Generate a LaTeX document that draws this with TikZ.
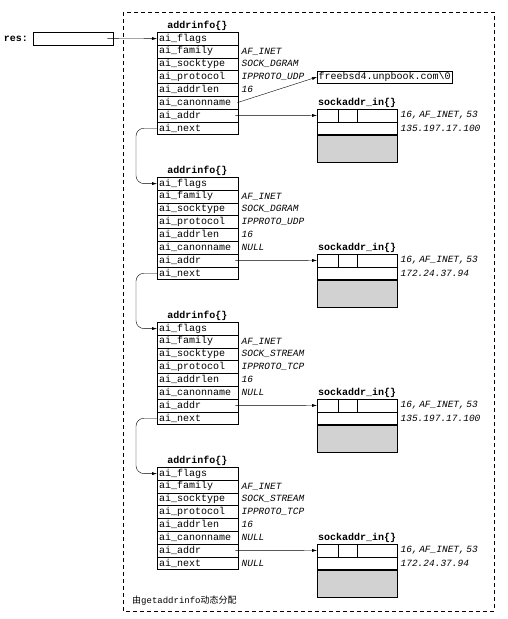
\documentclass[tikz,border=0pt]{standalone}
\usepackage{fontspec}
\setmonofont{Liberation Mono}
\newfontfamily\cjk{Noto Sans CJK SC}
\usetikzlibrary{arrows.meta}
\tikzset{
  fld/.style={draw,anchor=north west,minimum width=81pt,minimum height=12.8pt,
    text width=77pt,inner xsep=2pt,inner ysep=0pt,align=left},
  cell/.style={draw,anchor=north west,minimum width=80pt,minimum height=12.5pt,inner sep=0pt},
  val/.style={anchor=west,inner sep=0pt,xshift=3pt,font=\ttfamily\itshape\fontsize{9.5}{11}\selectfont},
  ttl/.style={font=\ttfamily\bfseries\fontsize{10}{12}\selectfont,inner sep=0pt},
  ptr/.style={-{Latex[length=5pt,width=3pt]}},
}
\begin{document}
\begin{tikzpicture}[x=1pt,y=-1pt,font=\ttfamily\fontsize{10}{12}\selectfont]
 \useasboundingbox (0,0) rectangle (507,619);
 \draw[dashed,dash pattern=on 4pt off 3pt] (123,12) rectangle (494,611);
 % res pointer
 \node[draw,anchor=west,minimum width=80pt,minimum height=13pt,inner sep=0pt] (res) at (33,38.4) {};
 \node[ttl,anchor=east] (reslbl) at ([xshift=-5pt]res.west) {res:};
 % the four addrinfo{} structures
 \foreach \s/\top/\typ/\proto/\ip in {1/32/DGRAM/UDP/135.197.17.100,2/177/DGRAM/UDP/172.24.37.94,
   3/322/STREAM/TCP/135.197.17.100,4/467/STREAM/TCP/172.24.37.94} {
  \node[ttl] (ai\s) at (197.5,\top-6) {addrinfo\{\}};
  \foreach \f [count=\i from 0] in {flags,family,socktype,protocol,addrlen,canonname,addr,next}
   \node[fld] (s\s-\f) at (157,\top+\i*12.8) {ai\_\f};
  \node[val] (v\s-family) at (s\s-family.east) {AF\_INET};
  \node[val] (v\s-type) at (s\s-socktype.east) {SOCK\_\typ};
  \node[val] (v\s-proto) at (s\s-protocol.east) {IPPROTO\_\proto};
  \node[val] (v\s-len) at (s\s-addrlen.east) {16};
  % sockaddr_in{}
  \node[cell] (sa\s) at (317,\top+77) {};
  \node[ttl] (sat\s) at ([yshift=6pt]sa\s.north) {sockaddr\_in\{\}};
  \draw ([xshift=21pt]sa\s.north west) -- ([xshift=21pt]sa\s.south west);
  \draw ([xshift=40pt]sa\s.north west) -- ([xshift=40pt]sa\s.south west);
  \node[cell] (sa\s-ip) at (sa\s.south west) {};
  \node[cell,fill=gray!35,minimum height=27pt] (sa\s-data) at (sa\s-ip.south west) {};
  \node[val] (v\s-sa) at (sa\s.east) {16,\,AF\_INET,\,53};
  \node[val] (v\s-ip) at (sa\s-ip.east) {\ip};
  \draw[ptr] ([xshift=-3pt]s\s-addr.east) -- (sa\s.west);
 }
 \foreach \s in {2,3,4} \node[val] (v\s-canon) at (s\s-canonname.east) {NULL};
 \node[val] (v4-next) at (s4-next.east) {NULL};
 % canonical name string
 \node[draw,anchor=west,inner sep=1.5pt] (canon) at (317,77) {freebsd4.unpbook.com\textbackslash 0};
 \draw[ptr] ([xshift=-1pt]s1-canonname.east) -- (canon.west);
 \draw[ptr] ([xshift=-6pt]res.east) -- (s1-flags.west);
 % ai_next chain
 \foreach \a/\b in {1/2,2/3,3/4}
  \draw[ptr,rounded corners=8pt] (s\a-next.west) -- ++(-21,0) |- (s\b-flags.west);
 \node[anchor=west,inner sep=0pt,font=\ttfamily\fontsize{9}{11}\selectfont] (note) at (132,601)
  {{\cjk 由}getaddrinfo{\cjk 动态分配}};
\end{tikzpicture}
\end{document}
